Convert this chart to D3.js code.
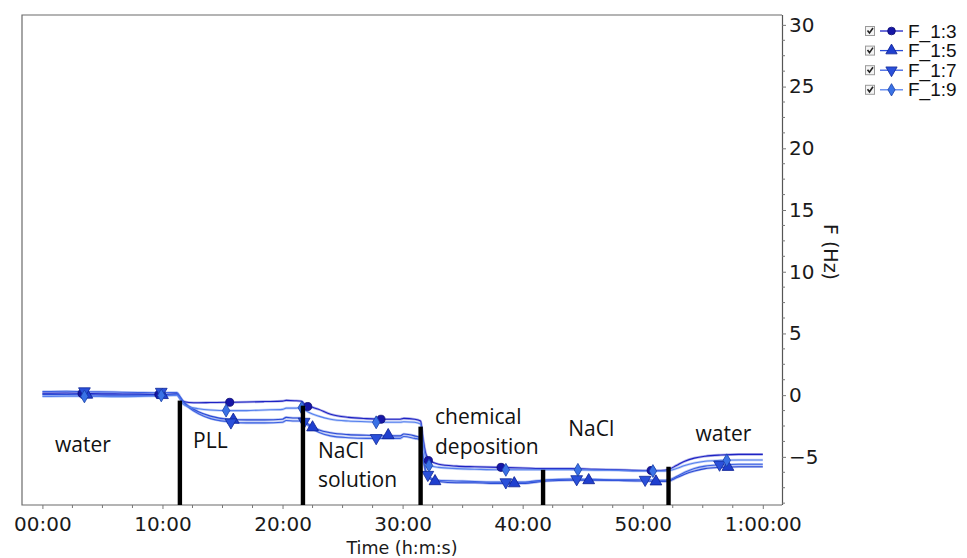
<!DOCTYPE html>
<html>
<head>
<meta charset="utf-8">
<script src="https://cdn.jsdelivr.net/npm/d3@7"></script>
<style>
  html, body { margin: 0; padding: 0; background: #fff; }
  svg { display: block; }
</style>
</head>
<body>
<svg id="chart" width="967" height="558"></svg>
<script>
// Elapsed time in minutes at which each trace was sampled
const times = [0, 2, 4, 6, 8, 10, 11.2, 11.45, 11.7, 12.2, 13, 14, 15.5, 17, 18.5, 20, 20.3, 21, 21.6,
  21.85, 22.3, 23, 24, 25.5, 27, 28.5, 29.8, 30.1, 31, 31.5, 31.7, 31.95, 32.3, 33, 34.5, 36, 38, 40,
  42, 44, 46, 48, 50, 51.5, 52.2, 52.8, 53.5, 54.3, 55.2, 56.5, 58, 60];

// Frequency shift (Hz) of each overtone
const f13 = [0.15, 0.18, 0.12, 0.1, 0.08, 0.05, 0.1, -0.2, -0.5, -0.6, -0.62, -0.6, -0.58, -0.56, -0.52, -0.48,
  -0.42, -0.45, -0.5, -0.75, -0.92, -1.15, -1.55, -1.8, -1.9, -1.95, -1.95, -1.88, -1.95, -2.1, -3.5, -4.8,
  -5.3, -5.6, -5.75, -5.8, -5.85, -5.9, -5.95, -5.95, -6.0, -6.05, -6.1, -6.1, -6.0, -5.7, -5.35, -5.1,
  -4.95, -4.85, -4.8, -4.8];
const f15 = [0.05, 0.05, 0.02, 0.0, 0.0, -0.02, 0.05, -0.2, -0.5, -0.9, -1.35, -1.7, -1.95, -2.0, -2.0, -1.95,
  -1.8, -1.85, -1.85, -2.1, -2.45, -2.8, -3.05, -3.2, -3.25, -3.3, -3.3, -3.15, -3.3, -3.45, -5.0, -6.3,
  -6.8, -7.0, -7.1, -7.1, -7.15, -7.15, -6.95, -6.9, -6.9, -6.92, -6.95, -7.0, -6.95, -6.7, -6.4, -6.15,
  -5.95, -5.85, -5.8, -5.8];
const f17 = [0.3, 0.32, 0.28, 0.25, 0.22, 0.2, 0.22, -0.1, -0.5, -1.0, -1.5, -1.9, -2.15, -2.25, -2.25, -2.2,
  -2.05, -2.1, -2.1, -2.2, -2.6, -3.0, -3.3, -3.45, -3.5, -3.5, -3.5, -3.35, -3.5, -3.6, -5.0, -6.2,
  -6.7, -6.9, -6.95, -7.0, -7.05, -7.05, -6.85, -6.8, -6.82, -6.85, -6.85, -6.9, -6.85, -6.6, -6.25, -5.95,
  -5.75, -5.65, -5.6, -5.6];
const f19 = [-0.1, -0.08, -0.1, -0.12, -0.1, -0.05, 0.0, -0.3, -0.7, -0.95, -1.1, -1.2, -1.25, -1.25, -1.2, -1.15,
  -1.05, -1.05, -1.02, -1.2, -1.45, -1.7, -1.95, -2.1, -2.15, -2.2, -2.2, -2.15, -2.2, -2.35, -3.8, -5.2,
  -5.7, -5.85, -5.95, -6.0, -6.05, -6.05, -6.05, -6.05, -6.08, -6.1, -6.15, -6.15, -6.1, -5.95, -5.7, -5.5,
  -5.35, -5.28, -5.25, -5.25];

// Marker positions along each trace: [minutes, Hz]
const marks13 = [[3.3, 0.14], [9.7, 0.06], [15.6, -0.58], [22.1, -0.92], [28.2, -1.95], [32.15, -5.3],
  [38.2, -5.85], [50.7, -6.1]];
const marks15 = [[3.7, 0.03], [10.0, 0.0], [15.9, -2.0], [22.5, -2.62], [28.8, -3.25], [32.7, -6.98],
  [39.3, -7.15], [45.5, -6.9], [51.1, -7.0], [57.1, -5.82]];
const marks17 = [[3.5, 0.32], [9.9, 0.28], [15.7, -2.2], [21.8, -2.15], [27.8, -3.47], [32.1, -6.45],
  [38.6, -7.05], [44.5, -6.8], [50.2, -6.85], [56.4, -5.62]];
const marks19 = [[3.5, -0.1], [9.9, -0.02], [15.3, -1.25], [21.6, -1.02], [27.8, -2.2], [32.2, -5.7],
  [38.6, -6.05], [44.6, -6.05], [50.85, -6.15], [57.0, -5.28]];

// Stage boundaries: [minutes, top of the marker bar in Hz]
const stageBars = [[11.45, -0.44], [21.7, -0.85], [31.5, -2.55], [41.7, -6.05], [52.15, -5.8]];

// Stage names, one entry per line of text: [text, minutes, Hz]
const stageLabels = [
  ["water", 1.05, -4.6], ["PLL", 12.55, -4.3], ["NaCl", 22.95, -5.07], ["solution", 22.95, -7.45],
  ["chemical", 32.7, -2.35], ["deposition", 32.7, -4.75], ["NaCl", 43.8, -3.3], ["water", 54.4, -3.7]
];

const xTicks = [0, 10, 20, 30, 40, 50, 60];
const xTickLabels = ["00:00", "10:00", "20:00", "30:00", "40:00", "50:00", "1:00:00"];
const yTicks = [-5, 0, 5, 10, 15, 20, 25, 30];

const series = [
  { name: "F_1:3", values: f13, marks: marks13, shape: "circle", line: "#1e22c4", fill: "#1616a6", edge: "#0a0a70" },
  { name: "F_1:5", values: f15, marks: marks15, shape: "up", line: "#2b4bd6", fill: "#1f3fcf", edge: "#0d2090" },
  { name: "F_1:7", values: f17, marks: marks17, shape: "down", line: "#3b60e2", fill: "#2a50da", edge: "#112a98" },
  { name: "F_1:9", values: f19, marks: marks19, shape: "diamond", line: "#5580ee", fill: "#3a72e6", edge: "#1840a8" }
];

const svg = d3.select("#chart");
const plotL = 22, plotR = 782, plotT = 15, plotB = 505;

const x = d3.scaleLinear().domain([-1.7, 61.6]).range([plotL, plotR]);
const y = d3.scaleLinear().domain([-8.9, 30.8]).range([plotB, plotT]);

// plot frame (top, left, bottom)
svg.append("path")
  .attr("d", `M${plotR},${plotT}H${plotL}V${plotB}H${plotR}`)
  .attr("fill", "none").attr("stroke", "#6b6b6b").attr("stroke-width", 1.2);

// traces
const line = d3.line().x((d, i) => x(times[i])).y(d => y(d)).curve(d3.curveMonotoneX);
const traces = svg.append("g");
series.forEach(s => {
  traces.append("path").attr("d", line(s.values))
    .attr("fill", "none").attr("stroke", s.line).attr("stroke-opacity", 0.35).attr("stroke-width", 2.6);
  traces.append("path").attr("d", line(s.values))
    .attr("fill", "none").attr("stroke", s.line).attr("stroke-width", 1.1);
});

function symbolPath(shape, size) {
  if (shape === "circle") return d3.symbol(d3.symbolCircle, size * 0.85)();
  if (shape === "diamond") return d3.symbol(d3.symbolDiamond, size * 0.8)();
  return d3.symbol(d3.symbolTriangle, size)();
}
function symbolTransform(shape, px, py) {
  return `translate(${px},${py})` + (shape === "down" ? " rotate(180)" : "");
}

// markers
const markG = svg.append("g");
series.forEach(s => {
  markG.selectAll(null).data(s.marks).join("path")
    .attr("d", symbolPath(s.shape, 60))
    .attr("transform", d => symbolTransform(s.shape, x(d[0]), y(d[1])))
    .attr("fill", s.fill).attr("stroke", s.edge).attr("stroke-width", 0.8);
});

// stage boundary bars
svg.append("g").selectAll("line").data(stageBars).join("line")
  .attr("x1", d => x(d[0])).attr("x2", d => x(d[0]))
  .attr("y1", d => y(d[1])).attr("y2", plotB)
  .attr("stroke", "#000").attr("stroke-width", 4.4);

// stage names
svg.append("g").selectAll("text").data(stageLabels).join("text")
  .attr("x", d => x(d[1])).attr("y", d => y(d[2]))
  .attr("font-family", "'Open Sans', sans-serif").attr("font-size", 21).attr("fill", "#111")
  .text(d => d[0]);

// x axis
const fmtTime = d => xTickLabels[xTicks.indexOf(d)];
const xAxis = svg.append("g").attr("transform", `translate(0,${plotB})`)
  .call(d3.axisBottom(x).tickValues(xTicks).tickFormat(fmtTime).tickSize(4).tickPadding(8).tickSizeOuter(0));
xAxis.select(".domain").remove();
const xMinor = d3.range(0, 60.1, 2.5).filter(v => xTicks.indexOf(v) < 0);
xAxis.selectAll(".minor").data(xMinor).join("line").attr("class", "minor")
  .attr("x1", d => x(d)).attr("x2", d => x(d)).attr("y1", 0).attr("y2", 3).attr("stroke", "#777");
xAxis.selectAll(".tick line").attr("stroke", "#777");
xAxis.selectAll("text").attr("font-family", "'DejaVu Sans', sans-serif").attr("font-size", 20).attr("fill", "#1a1a1a");

// y axis on the right
const yAxis = svg.append("g").attr("transform", `translate(${plotR},0)`)
  .call(d3.axisRight(y).tickValues(yTicks).tickSize(4).tickPadding(3).tickSizeOuter(0));
yAxis.select(".domain").attr("stroke", "#555").attr("stroke-width", 1.2)
  .attr("d", `M0.5,${plotT}V${plotB}`);
const yMinor = d3.range(-8.75, 30.01, 1.25).filter(v => yTicks.indexOf(v) < 0);
yAxis.selectAll(".minor").data(yMinor).join("line").attr("class", "minor")
  .attr("x1", 0).attr("x2", 3).attr("y1", d => y(d)).attr("y2", d => y(d)).attr("stroke", "#777");
yAxis.selectAll(".tick line").attr("stroke", "#777");
yAxis.selectAll("text").attr("font-family", "'DejaVu Sans', sans-serif").attr("font-size", 20).attr("fill", "#1a1a1a");

// axis titles
svg.append("text").attr("x", 402).attr("y", 554).attr("text-anchor", "middle")
  .attr("font-family", "'DejaVu Sans', sans-serif").attr("font-size", 17.5).attr("fill", "#1a1a1a")
  .text("Time (h:m:s)");
svg.append("text").attr("transform", "translate(824,252) rotate(90)").attr("text-anchor", "middle")
  .attr("font-family", "'DejaVu Sans', sans-serif").attr("font-size", 19).attr("fill", "#1a1a1a")
  .text("F (Hz)");

// legend
const legend = svg.append("g");
series.forEach((s, i) => {
  const cy = 31 + i * 19.6;
  const g = legend.append("g").attr("transform", `translate(0,${cy})`);
  g.append("rect").attr("x", 865.5).attr("y", -4.5).attr("width", 9).attr("height", 9)
    .attr("fill", "#f4f4f4").attr("stroke", "#9a9a9a");
  g.append("path").attr("d", "M867.5,-0.5 L869.5,2 L873,-3")
    .attr("fill", "none").attr("stroke", "#222").attr("stroke-width", 1.6);
  g.append("line").attr("x1", 880).attr("x2", 903).attr("y1", 0).attr("y2", 0)
    .attr("stroke", s.line).attr("stroke-width", 1.3);
  g.append("path").attr("d", symbolPath(s.shape, 55))
    .attr("transform", symbolTransform(s.shape, 891.5, 0))
    .attr("fill", s.fill).attr("stroke", s.edge).attr("stroke-width", 0.8);
  g.append("text").attr("x", 908).attr("y", 6.5)
    .attr("font-family", "'Liberation Sans', Arial, sans-serif").attr("font-size", 19).attr("fill", "#111")
    .text(s.name);
});
</script>
</body>
</html>
